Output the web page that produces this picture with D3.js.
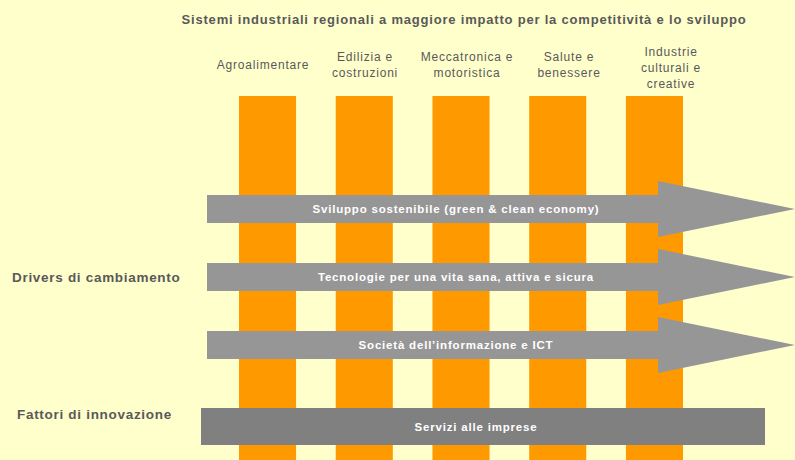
<!DOCTYPE html>
<meta charset="utf-8">
<script src="https://cdn.jsdelivr.net/npm/d3@7"></script>
<style>
  body { margin: 0; background: #ffffcc; }
  text { font-family: "Liberation Sans", Arial, sans-serif; }
</style>
<body>
<script>

var width = 795
var height = 460

// data
var title = "Sistemi industriali regionali a maggiore impatto per la competitività e lo sviluppo"
var sistemi = [
  ["Agroalimentare"],
  ["Edilizia e", "costruzioni"],
  ["Meccatronica e", "motoristica"],
  ["Salute e", "benessere"],
  ["Industrie", "culturali e", "creative"]
]
var drivers = [
  "Sviluppo sostenibile (green & clean economy)",
  "Tecnologie per una vita sana, attiva e sicura",
  "Società dell’informazione e ICT"
]
var fattori = ["Servizi alle imprese"]
var rowLabels = ["Drivers di cambiamento", "Fattori di innovazione"]

var x = d3.scaleBand().domain(d3.range(sistemi.length)).range([239, 683]).paddingInner(0.41)
var xl = d3.scalePoint().domain(d3.range(sistemi.length)).range([263, 671])
var y = d3.scalePoint().domain(d3.range(drivers.length)).range([209, 345])

var svg = d3.select("body").append("svg")
            .attr("width", width)
            .attr("height", height)
            .style("display", "block")

svg.append("rect").attr("width", width).attr("height", height).attr("fill", "#ffffcc")

// title
svg.append("text")
   .attr("x", 464).attr("y", 24)
   .attr("text-anchor", "middle")
   .attr("font-size", 13).attr("font-weight", "bold")
   .attr("letter-spacing", 0.8)
   .attr("fill", "#595959")
   .text(title)

// columns
svg.append("g").selectAll("rect").data(sistemi).join("rect")
   .attr("x", function(d, i) { return x(i) })
   .attr("y", 96)
   .attr("width", x.bandwidth())
   .attr("height", height - 96)
   .attr("fill", "#ff9900")

// column labels
var lab = svg.append("g").selectAll("text").data(sistemi).join("text")
   .attr("text-anchor", "middle")
   .attr("font-size", 12)
   .attr("letter-spacing", 0.8)
   .attr("fill", "#595959")
   .attr("transform", function(d, i) {
     var y0 = d.length == 1 ? 69 : d.length == 2 ? 61 : 56
     return "translate(" + xl(i) + "," + y0 + ")"
   })
lab.selectAll("tspan").data(function(d) { return d }).join("tspan")
   .attr("x", 0)
   .attr("dy", function(d, j) { return j == 0 ? 0 : 16 })
   .text(function(d) { return d })

// driver arrows
var body = 14, head = 28, headX = 658, tipX = 795, startX = 207
var arr = svg.append("g").selectAll("g").data(drivers).join("g")
   .attr("transform", function(d, i) { return "translate(0," + y(i) + ")" })
arr.append("path")
   .attr("d", "M" + startX + "," + (-body) + "H" + headX + "V" + (-head) + "L" + tipX + ",0L" + headX + "," + head +
              "V" + body + "H" + startX + "Z")
   .attr("fill", "#969696")
arr.append("text")
   .attr("x", 456).attr("dy", "0.35em")
   .attr("text-anchor", "middle")
   .attr("font-size", 11.5).attr("font-weight", "bold")
   .attr("letter-spacing", 0.8)
   .attr("fill", "#ffffff")
   .text(function(d) { return d })

// fattori bar
var fb = svg.append("g").selectAll("g").data(fattori).join("g")
fb.append("rect")
   .attr("x", 201).attr("y", 408).attr("width", 564).attr("height", 37)
   .attr("fill", "#808080")
fb.append("text")
   .attr("x", 476).attr("y", 427).attr("dy", "0.35em")
   .attr("text-anchor", "middle")
   .attr("font-size", 11.5).attr("font-weight", "bold")
   .attr("letter-spacing", 0.8)
   .attr("fill", "#ffffff")
   .text(function(d) { return d })

// row labels
svg.append("g").selectAll("text").data(rowLabels).join("text")
   .attr("x", function(d, i) { return i == 0 ? 12 : 17 })
   .attr("y", function(d, i) { return i == 0 ? 277 : 414 })
   .attr("dy", "0.35em")
   .attr("font-size", 13.5).attr("font-weight", "bold")
   .attr("letter-spacing", 0.7)
   .attr("fill", "#595959")
   .text(function(d) { return d })

</script>
</body>
